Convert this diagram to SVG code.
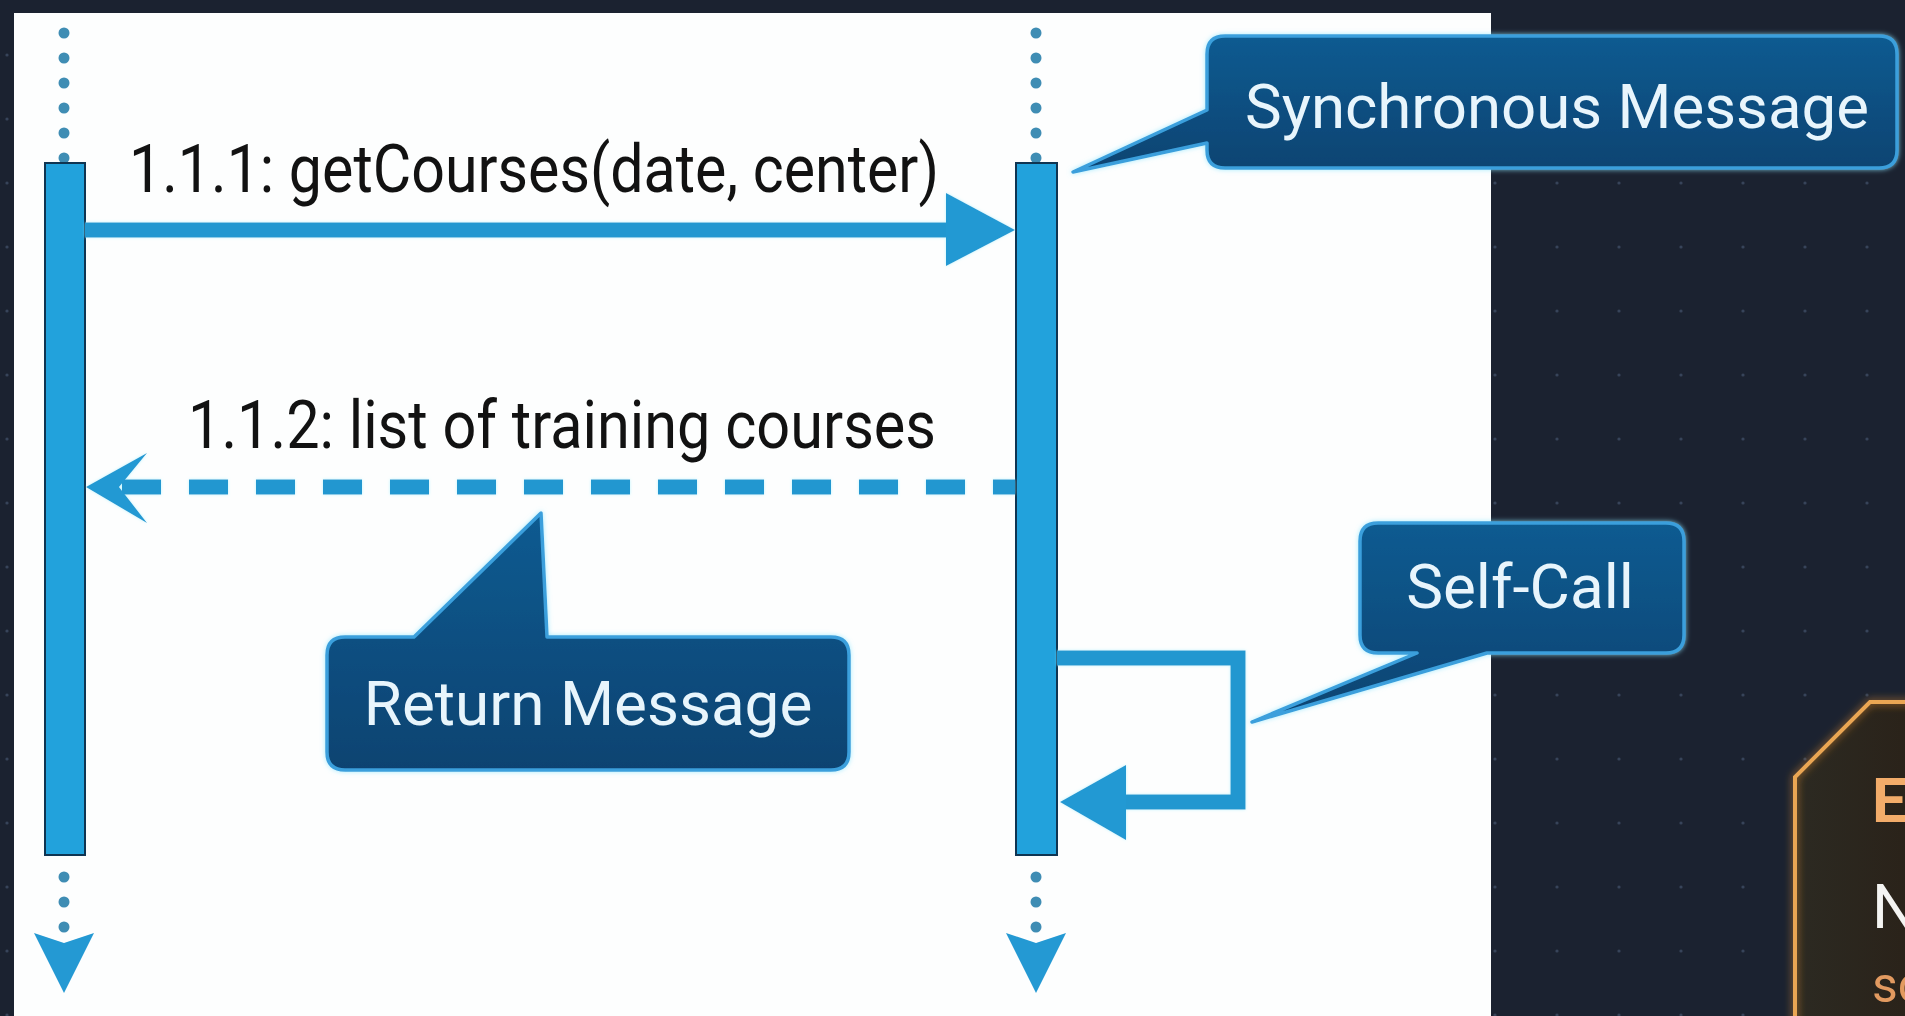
<svg xmlns="http://www.w3.org/2000/svg" width="1905" height="1016" viewBox="0 0 1905 1016">
  <style>
    .msg { font-family: Roboto, "Liberation Sans", sans-serif; font-size: 66px; fill: #121212; }
    .cl { font-family: Roboto, "Liberation Sans", sans-serif; font-size: 62px; fill: #e8f5fc; text-anchor: middle; }
    .callout { fill: url(#calloutFill); stroke: #3a9fdc; stroke-width: 3.5; stroke-linejoin: round; filter: url(#cyanGlow); }
    .bar { fill: #22a2dc; stroke: #0f3552; stroke-width: 2; }
    .dot { fill: #3f8db4; }
    .line { stroke: #2497d0; stroke-width: 15; fill: none; }
    .head { fill: #2499d3; }
  </style>
  <defs>
    <linearGradient id="calloutFill" x1="0" y1="0" x2="0" y2="1">
      <stop offset="0" stop-color="#0f5b91"/>
      <stop offset="1" stop-color="#0a4371"/>
    </linearGradient>
    <linearGradient id="orangeFill" x1="0" y1="0" x2="1" y2="0">
      <stop offset="0" stop-color="#2c2a22"/>
      <stop offset="1" stop-color="#2a2219"/>
    </linearGradient>
    <filter id="cyanGlow" x="-10%" y="-20%" width="120%" height="140%">
      <feDropShadow dx="0" dy="0" stdDeviation="2.5" flood-color="#8fe6ff" flood-opacity="0.8"/>
    </filter>
    <filter id="lineGlow" x="-5%" y="-5%" width="110%" height="110%">
      <feDropShadow dx="0" dy="0" stdDeviation="1.5" flood-color="#9ff0ff" flood-opacity="0.7"/>
    </filter>
    <filter id="orangeGlow" x="-20%" y="-20%" width="140%" height="140%">
      <feDropShadow dx="0" dy="0" stdDeviation="4" flood-color="#e08a2a" flood-opacity="0.8"/>
    </filter>
    <pattern id="grid" patternUnits="userSpaceOnUse" x="1464" y="215" width="62" height="64">
      <circle cx="31" cy="32" r="1.6" fill="#37445a"/>
    </pattern>
  </defs>

  <!-- background -->
  <rect x="0" y="0" width="1905" height="1016" fill="#1b2230"/>
  <rect x="0" y="0" width="1905" height="1016" fill="url(#grid)"/>
  <!-- white panel -->
  <rect x="14" y="13" width="1477" height="1010" fill="#fdfefe"/>

  <!-- lifelines -->
  <g id="lifeline-left">
    <circle class="dot" cx="64" cy="33" r="5.5"/>
    <circle class="dot" cx="64" cy="58" r="5.5"/>
    <circle class="dot" cx="64" cy="83" r="5.5"/>
    <circle class="dot" cx="64" cy="108" r="5.5"/>
    <circle class="dot" cx="64" cy="133" r="5.5"/>
    <circle class="dot" cx="64" cy="158" r="5.5"/>
    <rect class="bar" x="45" y="163" width="40" height="692"/>
    <circle class="dot" cx="64" cy="877" r="5.5"/>
    <circle class="dot" cx="64" cy="902" r="5.5"/>
    <circle class="dot" cx="64" cy="927" r="5.5"/>
    <polygon class="head" points="34,933 64,943 94,933 64,993"/>
  </g>
  <g id="lifeline-right">
    <circle class="dot" cx="1036" cy="33" r="5.5"/>
    <circle class="dot" cx="1036" cy="58" r="5.5"/>
    <circle class="dot" cx="1036" cy="83" r="5.5"/>
    <circle class="dot" cx="1036" cy="108" r="5.5"/>
    <circle class="dot" cx="1036" cy="133" r="5.5"/>
    <circle class="dot" cx="1036" cy="158" r="5.5"/>
    <rect class="bar" x="1016" y="163" width="41" height="692"/>
    <circle class="dot" cx="1036" cy="877" r="5.5"/>
    <circle class="dot" cx="1036" cy="902" r="5.5"/>
    <circle class="dot" cx="1036" cy="927" r="5.5"/>
    <polygon class="head" points="1006,933 1036,943 1066,933 1036,993"/>
  </g>

  <!-- connectors -->
  <g id="connectors" filter="url(#lineGlow)">
    <path class="line" d="M85,230 H952"/>
    <polygon class="head" points="946,193 1015,230 946,266"/>
    <path class="line" d="M122,487 H1015" stroke-width="14" stroke-dasharray="39 28"/>
    <polygon class="head" points="86,487 147,453 119,487 147,523"/>
    <path class="line" d="M1057,658 H1238 V802 H1118" stroke-width="14" stroke-linejoin="miter"/>
    <polygon class="head" points="1060,802 1126,765 1126,840"/>
  </g>

  <!-- message labels -->
  <text class="msg" x="129" y="192" textLength="810" lengthAdjust="spacingAndGlyphs">1.1.1: getCourses(date, center)</text>
  <text class="msg" x="188" y="448" textLength="748" lengthAdjust="spacingAndGlyphs">1.1.2: list of training courses</text>

  <!-- callouts -->
  <g id="callout-sync">
    <path class="callout" d="M1225,36 H1879 Q1897,36 1897,54 V150 Q1897,168 1879,168 H1225 Q1207,168 1207,150 V143 L1073,172 L1207,110 V54 Q1207,36 1225,36 Z"/>
    <text class="cl" x="1557" y="128" font-size="64" textLength="624" lengthAdjust="spacingAndGlyphs">Synchronous Message</text>
  </g>
  <g id="callout-return">
    <path class="callout" d="M345,637 H414 L541,513 L547,637 H831 Q849,637 849,655 V752 Q849,770 831,770 H345 Q327,770 327,752 V655 Q327,637 345,637 Z"/>
    <text class="cl" x="588" y="725">Return Message</text>
  </g>
  <g id="callout-self">
    <path class="callout" d="M1378,523 H1666 Q1684,523 1684,541 V635 Q1684,653 1666,653 H1487 L1252,722 L1417,653 H1378 Q1360,653 1360,635 V541 Q1360,523 1378,523 Z"/>
    <text class="cl" x="1520" y="608">Self-Call</text>
  </g>

  <!-- orange node (cut off at right edge, as in the picture) -->
  <g id="node-orange">
    <path d="M1795,1030 V777 L1870,702 H1915 V1030 Z" fill="url(#orangeFill)"/>
    <path d="M1795,1030 V777 L1870,702 H1915" fill="none" stroke="#eaa653" stroke-width="4" filter="url(#orangeGlow)"/>
    <text x="1872" y="822" font-family="Roboto, 'Liberation Sans', sans-serif" font-size="62" font-weight="bold" fill="#f2ac6a">E</text>
    <text x="1872" y="928" font-family="Roboto, 'Liberation Sans', sans-serif" font-size="62" fill="#f4f4f2">N</text>
    <text x="1872" y="1002" font-family="Roboto, 'Liberation Sans', sans-serif" font-size="50" fill="#e29a60">sc</text>
  </g>
</svg>
